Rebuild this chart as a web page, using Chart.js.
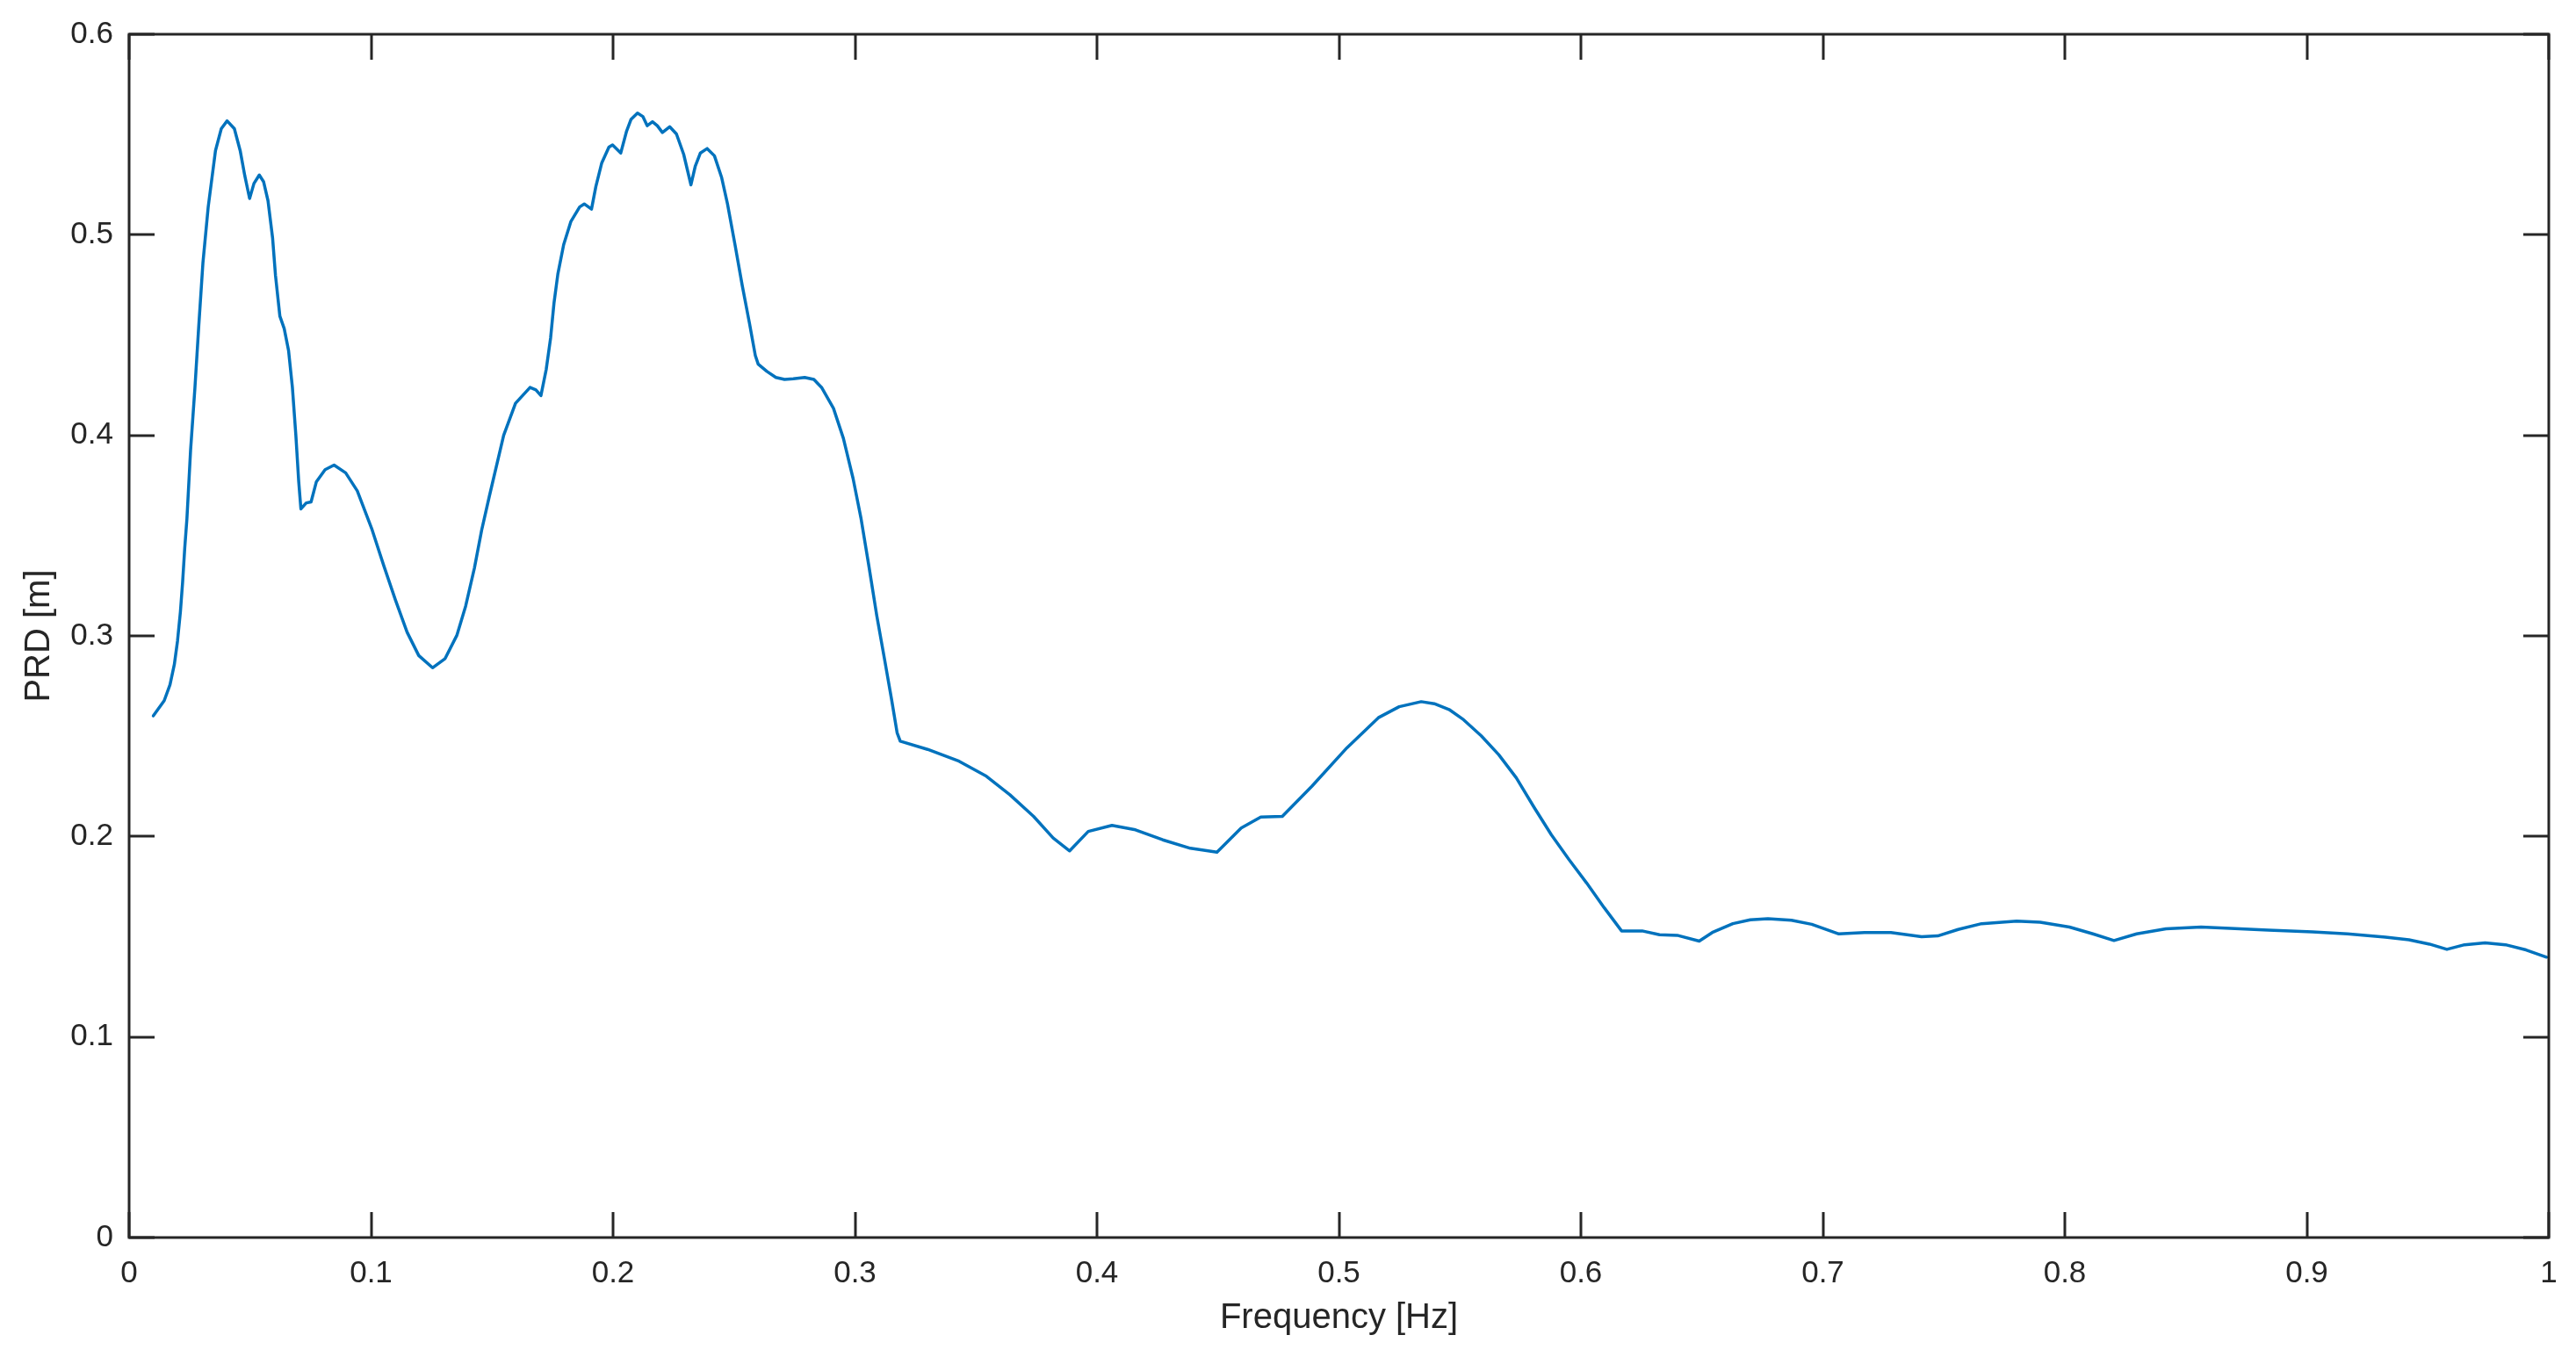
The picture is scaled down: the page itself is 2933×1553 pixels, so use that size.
<!DOCTYPE html>
<html>
<head>
<meta charset="utf-8">
<script src="https://cdn.jsdelivr.net/npm/chart.js@4"></script>
<style>
  html, body { margin: 0; padding: 0; background: #fff; }
  canvas { display: block; }
</style>
</head>
<body>
<canvas id="prdChart" width="2933" height="1553"></canvas>
<script>
// frequency [Hz] and PRD [m]
var freq = [
  0.0100, 0.0145, 0.0169, 0.0187, 0.0200, 0.0212, 0.0221, 0.0230, 0.0239, 0.0254,
  0.0272, 0.0288, 0.0305, 0.0327, 0.0357, 0.0381, 0.0405, 0.0435, 0.0459, 0.0478,
  0.0498, 0.0516, 0.0538, 0.0556, 0.0574, 0.0593, 0.0605, 0.0623, 0.0641, 0.0659,
  0.0675, 0.0689, 0.0701, 0.0710, 0.0732, 0.0752, 0.0774, 0.0810, 0.0847, 0.0895,
  0.0943, 0.1004, 0.1052, 0.1101, 0.1149, 0.1197, 0.1254, 0.1306, 0.1355, 0.1391,
  0.1427, 0.1457, 0.1488, 0.1548, 0.1597, 0.1657, 0.1681, 0.1702, 0.1724, 0.1742,
  0.1756, 0.1772, 0.1796, 0.1826, 0.1862, 0.1881, 0.1911, 0.1929, 0.1953, 0.1983,
  0.1998, 0.2032, 0.2056, 0.2074, 0.2101, 0.2123, 0.2141, 0.2163, 0.2183, 0.2204,
  0.2234, 0.2262, 0.2292, 0.2322, 0.2340, 0.2361, 0.2389, 0.2419, 0.2449, 0.2473,
  0.2504, 0.2534, 0.2564, 0.2588, 0.2600, 0.2636, 0.2673, 0.2709, 0.2745, 0.2792,
  0.2830, 0.2863, 0.2911, 0.2952, 0.2992, 0.3025, 0.3057, 0.3090, 0.3122, 0.3151,
  0.3174, 0.3187, 0.3300, 0.3430, 0.3543, 0.3640, 0.3738, 0.3819, 0.3887, 0.3964,
  0.4062, 0.4159, 0.4272, 0.4386, 0.4496, 0.4596, 0.4677, 0.4766, 0.4888, 0.5033,
  0.5163, 0.5249, 0.5340, 0.5394, 0.5455, 0.5515, 0.5588, 0.5660, 0.5733, 0.5806,
  0.5878, 0.5951, 0.6023, 0.6096, 0.6168, 0.6253, 0.6325, 0.6398, 0.6489, 0.6543,
  0.6628, 0.6700, 0.6773, 0.6870, 0.6954, 0.7066, 0.7172, 0.7281, 0.7408, 0.7475,
  0.7559, 0.7656, 0.7801, 0.7898, 0.8019, 0.8116, 0.8203, 0.8297, 0.8418, 0.8563,
  0.8684, 0.8841, 0.9023, 0.9168, 0.9325, 0.9422, 0.9507, 0.9579, 0.9652, 0.9737,
  0.9821, 0.9906, 0.9991
];
var prd = [
  0.2601, 0.2677, 0.2756, 0.2858, 0.2974, 0.3120, 0.3265, 0.3439, 0.3585, 0.3925,
  0.4237, 0.4548, 0.4859, 0.5140, 0.5420, 0.5529, 0.5568, 0.5529, 0.5420, 0.5295,
  0.5181, 0.5256, 0.5298, 0.5264, 0.5170, 0.4984, 0.4797, 0.4595, 0.4532, 0.4423,
  0.4237, 0.4003, 0.3769, 0.3633, 0.3663, 0.3668, 0.3769, 0.3829, 0.3852, 0.3813,
  0.3723, 0.3530, 0.3352, 0.3178, 0.3018, 0.2902, 0.2841, 0.2887, 0.3004, 0.3149,
  0.3338, 0.3527, 0.3692, 0.4000, 0.4160, 0.4239, 0.4227, 0.4198, 0.4330, 0.4486,
  0.4660, 0.4805, 0.4951, 0.5067, 0.5139, 0.5154, 0.5128, 0.5241, 0.5357, 0.5437,
  0.5448, 0.5408, 0.5517, 0.5575, 0.5607, 0.5590, 0.5544, 0.5564, 0.5544, 0.5510,
  0.5539, 0.5503, 0.5401, 0.5249, 0.5343, 0.5408, 0.5430, 0.5394, 0.5285, 0.5154,
  0.4951, 0.4747, 0.4558, 0.4398, 0.4355, 0.4319, 0.4289, 0.4279, 0.4282, 0.4289,
  0.4279, 0.4237, 0.4135, 0.3985, 0.3785, 0.3585, 0.3351, 0.3101, 0.2884, 0.2684,
  0.2517, 0.2475, 0.2434, 0.2375, 0.2300, 0.2208, 0.2100, 0.1992, 0.1928, 0.2025,
  0.2055, 0.2033, 0.1983, 0.1941, 0.1922, 0.2042, 0.2097, 0.2100, 0.2250, 0.2442,
  0.2592, 0.2647, 0.2672, 0.2662, 0.2633, 0.2582, 0.2502, 0.2408, 0.2292, 0.2146,
  0.2008, 0.1884, 0.1769, 0.1645, 0.1529, 0.1529, 0.1510, 0.1507, 0.1478, 0.1521,
  0.1565, 0.1584, 0.1590, 0.1582, 0.1562, 0.1514, 0.1521, 0.1521, 0.1500, 0.1504,
  0.1536, 0.1565, 0.1578, 0.1572, 0.1548, 0.1514, 0.1481, 0.1514, 0.1539, 0.1548,
  0.1542, 0.1533, 0.1524, 0.1514, 0.1498, 0.1485, 0.1463, 0.1437, 0.1460, 0.1469,
  0.1460, 0.1434, 0.1398
];

var xTicks = [0, 0.1, 0.2, 0.3, 0.4, 0.5, 0.6, 0.7, 0.8, 0.9, 1];
var yTicks = [0, 0.1, 0.2, 0.3, 0.4, 0.5, 0.6];

var points = freq.map(function (f, i) { return { x: f, y: prd[i] }; });

var axisColor = '#262626';
var fontFamily = '"Liberation Sans", Arial, Helvetica, sans-serif';

// matlab style box with inward ticks on all four sides
var boxAxes = {
  id: 'boxAxes',
  afterDatasetsDraw: function (chart) {
    var ctx = chart.ctx;
    var a = chart.chartArea;
    var xs = chart.scales.x, ys = chart.scales.y;
    var len = 29;
    ctx.save();
    ctx.strokeStyle = axisColor;
    ctx.lineWidth = 3;
    ctx.lineCap = 'butt';
    ctx.beginPath();
    xTicks.forEach(function (v) {
      var px = Math.round(xs.getPixelForValue(v));
      ctx.moveTo(px, a.bottom); ctx.lineTo(px, a.bottom - len);
      ctx.moveTo(px, a.top); ctx.lineTo(px, a.top + len);
    });
    yTicks.forEach(function (v) {
      var py = Math.round(ys.getPixelForValue(v));
      ctx.moveTo(a.left, py); ctx.lineTo(a.left + len, py);
      ctx.moveTo(a.right, py); ctx.lineTo(a.right - len, py);
    });
    ctx.stroke();
    ctx.lineJoin = 'miter';
    ctx.strokeRect(a.left, a.top, a.right - a.left, a.bottom - a.top);
    ctx.restore();
  }
};

new Chart(document.getElementById('prdChart'), {
  type: 'scatter',
  data: {
    datasets: [{
      label: 'PRD',
      data: points,
      showLine: true,
      borderColor: '#0072BD',
      backgroundColor: '#0072BD',
      borderWidth: 3.5,
      borderJoinStyle: 'round',
      borderCapStyle: 'round',
      pointRadius: 0,
      tension: 0
    }]
  },
  options: {
    responsive: false,
    animation: false,
    devicePixelRatio: 1,
    layout: { padding: { top: 33, right: 31, left: 0, bottom: 0 } },
    plugins: {
      legend: { display: false },
      tooltip: { enabled: false }
    },
    scales: {
      x: {
        type: 'linear',
        min: 0,
        max: 1,
        afterFit: function (s) { s.height = 144; },
        afterBuildTicks: function (s) { s.ticks = xTicks.map(function (v) { return { value: v }; }); },
        grid: { display: false, drawTicks: false },
        border: { display: false },
        ticks: {
          autoSkip: false,
          maxRotation: 0,
          padding: 20,
          color: axisColor,
          font: { family: fontFamily, size: 35 },
          callback: function (v) { return String(+v.toFixed(1)); }
        },
        title: {
          display: true,
          text: 'Frequency [Hz]',
          color: axisColor,
          padding: 28,
          font: { family: fontFamily, size: 40 }
        }
      },
      y: {
        type: 'linear',
        min: 0,
        max: 0.6,
        afterFit: function (s) { s.width = 147; },
        afterBuildTicks: function (s) { s.ticks = yTicks.map(function (v) { return { value: v }; }); },
        grid: { display: false, drawTicks: false },
        border: { display: false },
        ticks: {
          autoSkip: false,
          padding: 18,
          color: axisColor,
          font: { family: fontFamily, size: 35 },
          callback: function (v) { return String(+v.toFixed(1)); }
        },
        title: {
          display: true,
          text: 'PRD [m]',
          color: axisColor,
          padding: 21,
          font: { family: fontFamily, size: 40 }
        }
      }
    }
  },
  plugins: [boxAxes]
});
</script>
</body>
</html>
